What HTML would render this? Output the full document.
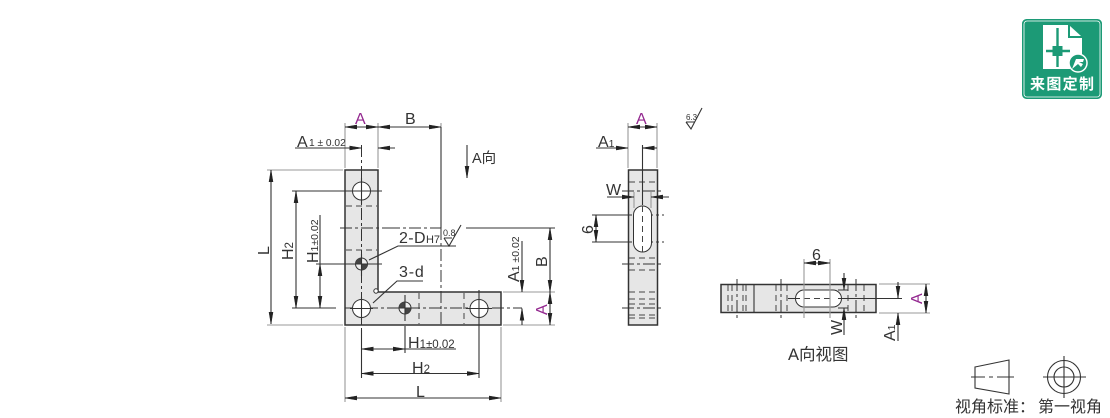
<!DOCTYPE html>
<html><head><meta charset="utf-8"><style>
html,body{margin:0;padding:0;background:#fff;width:1110px;height:418px;overflow:hidden}
svg{display:block}
text{font-family:"Liberation Sans","Noto Sans CJK SC",sans-serif;fill:#333}
.d{stroke:#333;stroke-width:1.100;fill:none}
.e{stroke:#999;stroke-width:1.100;fill:none}
.c{stroke:#333;stroke-width:1;fill:none;stroke-dasharray:12 3 3 3}
.h{stroke:#444;stroke-width:1;fill:none;stroke-dasharray:6 4}
.o{stroke:#333;stroke-width:1.500;fill:#e6e6e6}
.w{stroke:#333;stroke-width:1;fill:#fff}
.p{fill:#93278f}
</style></head><body>
<svg width="1110" height="418" viewBox="0 0 1110 418" xmlns="http://www.w3.org/2000/svg">
<defs>
<marker id="a" viewBox="0 0 12 6" refX="12" refY="3" markerWidth="12" markerHeight="6" orient="auto-start-reverse" markerUnits="userSpaceOnUse"><path d="M0 1L12 3L0 5z" fill="#222" stroke="#222" stroke-width=".5"/></marker>
</defs>

<!-- Main L part -->
<path class="o" d="M345 170H378V292H501V325H345z"/>
<g class="h">
<path d="M346 206H377M346 250H377M419 293V324M464 293V324"/>
</g>
<g class="c">
<path d="M361.500 145V340M340 228H388M345 308H522M388 228H441M441 228V325"/>
</g>
<path class="d" d="M441 127V228"/>
<circle class="w" cx="361.500" cy="191" r="9"/>
<circle class="w" cx="361.500" cy="308.500" r="9"/>
<circle class="w" cx="479" cy="308.500" r="9"/>
<circle cx="361.500" cy="264" r="6" fill="#eee" stroke="#333"/>
<path d="M361.500 264V258A6 6 0 0 0 355.500 264zM361.500 264H367.500A6 6 0 0 1 361.500 270z" fill="#444"/>
<circle cx="405" cy="308" r="6" fill="#eee" stroke="#333"/>
<path d="M405 308V302A6 6 0 0 0 399 308zM405 308H411A6 6 0 0 1 405 314z" fill="#444"/>
<circle cx="376" cy="291" r="2.200" fill="#fff" stroke="#333"/>
<path class="d" d="M340 191H382M361.500 178V204M338 264H382M361.500 254V276M350 308.500H373M361.500 297V320M466 308.500H492M479 290V326M405 295V321M395 308H415"/>

<!-- Top dims main -->
<path class="e" d="M345 123V168M378 123V168M441 123V127"/>
<path class="d" d="M345 127H378" marker-start="url(#a)" marker-end="url(#a)"/>
<path class="d" d="M378 127H441" marker-start="url(#a)" marker-end="url(#a)"/>
<text class="p" x="355" y="124" font-size="16">A</text>
<text x="405" y="124" font-size="16">B</text>
<path class="d" d="M295 148H361.500" marker-end="url(#a)"/>
<path class="d" d="M395 148H378" marker-end="url(#a)"/>
<text x="297" y="147" font-size="16">A</text><text x="309" y="146" font-size="10.200">1 ± 0.02</text>
<path class="d" d="M467 145V178" marker-end="url(#a)"/>
<text x="472" y="163" font-size="14.500">A向</text>

<!-- Left dims -->
<path class="e" d="M267 170H343M267 325H343"/>
<path class="d" d="M292 191H340M292 308H336M316 264H338"/>
<path class="d" d="M271 170V324" marker-start="url(#a)" marker-end="url(#a)"/>
<path class="d" d="M296 191V308" marker-start="url(#a)" marker-end="url(#a)"/>
<path class="d" d="M320 264V308" marker-start="url(#a)" marker-end="url(#a)"/>
<path class="d" d="M320 215V264"/>
<text font-size="16" transform="translate(269 255) rotate(-90)">L</text>
<text font-size="16" transform="translate(293 260) rotate(-90)">H<tspan font-size="11.500">2</tspan></text>
<text font-size="16" transform="translate(318 263) rotate(-90)">H<tspan font-size="10.500">1±0.02</tspan></text>

<!-- Callouts -->
<path class="d" d="M369 260L398 246H456M373 303L397 281H423"/>
<text x="399" y="243" font-size="16" letter-spacing=".4">2-D<tspan font-size="11" letter-spacing="0">H7</tspan></text>
<text x="399" y="277" font-size="16" letter-spacing=".8">3-d</text>
<text x="443" y="236" font-size="9">0.8</text>
<path class="d" d="M444 238H452M444 238L449 246L461 225"/>

<!-- Right dims -->
<path class="e" d="M503 292H555M503 325H555"/>
<path class="d" d="M466 228H555"/>
<path class="d" d="M550 228V292" marker-start="url(#a)" marker-end="url(#a)"/>
<path class="d" d="M550 292V325" marker-start="url(#a)" marker-end="url(#a)"/>
<path class="d" d="M522 241V292" marker-end="url(#a)"/>
<path class="d" d="M522 325V308.500" marker-end="url(#a)"/>
<text font-size="16" transform="translate(519 282) rotate(-90)">A<tspan font-size="10.500">1 ±0.02</tspan></text>
<text font-size="16" transform="translate(547 267) rotate(-90)">B</text>
<text class="p" font-size="16" transform="translate(547 315) rotate(-90)">A</text>

<!-- Bottom dims -->
<path class="e" d="M345 327V402M501 327V402"/>
<path class="d" d="M361.500 330V378M479 326V378M405 326V353"/>
<path class="d" d="M361.500 349H405" marker-start="url(#a)" marker-end="url(#a)"/>
<path class="d" d="M405 349H456"/>
<path class="d" d="M361.500 373.500H479" marker-start="url(#a)" marker-end="url(#a)"/>
<path class="d" d="M345 398H501" marker-start="url(#a)" marker-end="url(#a)"/>
<text x="408" y="348" font-size="16">H<tspan font-size="11.500">1±0.02</tspan></text>
<text x="412" y="373" font-size="16">H<tspan font-size="11.500">2</tspan></text>
<text x="416" y="397" font-size="16">L</text>

<!-- Side view -->
<rect class="o" x="628.500" y="170" width="29" height="155"/>
<path class="h" d="M629 182H657M629 258H657M629 270H657M629 292H657M629 299H657M629 304H657M629 315H657M629 318H657"/>
<path class="c" d="M622 191H664M622 264H664M622 308H664M620 215H664M620 242H664"/>
<path class="e" d="M634 192V208M651 192V208"/>
<path d="M633.500 215a9 9 0 0 1 18 0v28a9 9 0 0 1-18 0z" fill="#fff" stroke="#333"/>
<path class="d" d="M642.500 145V205"/>
<path class="h" d="M642.500 206V256"/>
<path class="e" d="M628 123V168M657 123V168"/>
<path class="d" d="M628 127H657" marker-start="url(#a)" marker-end="url(#a)"/>
<text class="p" x="636" y="124" font-size="16">A</text>
<path class="d" d="M596 148H628" marker-end="url(#a)"/>
<path class="d" d="M657 148H642.500" marker-end="url(#a)"/>
<text x="598" y="147" font-size="16">A<tspan font-size="10.500">1</tspan></text>
<path class="d" d="M607 197H634" marker-end="url(#a)"/>
<path class="d" d="M669 197H651" marker-end="url(#a)"/>
<text x="606" y="195" font-size="16">W</text>
<text x="686" y="120" font-size="8">6.3</text>
<path class="d" d="M686 122H695M686 122L691 129L702 108"/>
<path class="d" d="M592 215H620M592 242H620"/>
<path class="d" d="M596 215V242" marker-start="url(#a)" marker-end="url(#a)"/>
<text font-size="16" transform="translate(593 234) rotate(-90)">6</text>

<!-- A view -->
<rect class="o" x="721" y="284.500" width="155" height="28"/>
<path class="d" d="M754 285V312"/>
<path class="h" d="M728 285V312M732 285V312M743 285V312M746 285V312M776 285V312M787 285V312M848 285V312M864 285V312"/>
<path class="c" d="M737 279V319M781 279V319M856 279V319"/>
<path d="M804 290h29a8.500 8.500 0 0 1 0 17h-29a8.500 8.500 0 0 1 0-17z" fill="#fff" stroke="#333"/>
<path class="h" d="M804 298.500H833"/>
<path class="d" d="M788 298.500H800M838 298.500H902"/>
<path class="e" d="M804 259V318M830 259V318"/>
<path class="d" d="M804 263H830" marker-start="url(#a)" marker-end="url(#a)"/>
<text x="812" y="260" font-size="16">6</text>
<path class="d" d="M844 273V290" marker-end="url(#a)"/>
<path class="d" d="M844 335V308" marker-end="url(#a)"/>
<path class="d" d="M838 290H848M838 308H848"/>
<text font-size="16" transform="translate(842 335) rotate(-90)">W</text>
<path class="e" d="M879 284H930M879 313H930"/>
<path class="d" d="M898 282V298" marker-end="url(#a)"/>
<path class="d" d="M898 341V313" marker-end="url(#a)"/>
<path class="d" d="M926 284V313" marker-start="url(#a)" marker-end="url(#a)"/>
<text class="p" font-size="16" transform="translate(922 304) rotate(-90)">A</text>
<text font-size="16" transform="translate(895 341) rotate(-90)">A<tspan font-size="10.500">1</tspan></text>
<text x="788" y="360" font-size="16.500">A向视图</text>

<!-- Projection symbol -->
<path class="d" d="M975 367L1009 360V394L975 388z"/>
<path class="d" d="M971 377H985M989 377H993M997 377H1014"/>
<circle class="d" cx="1064" cy="377" r="16.500"/>
<circle class="d" cx="1064" cy="377" r="10"/>
<path class="d" d="M1043 377H1086M1064 356V398"/>
<text x="955" y="412" font-size="16">视角标准：</text>
<text x="1038" y="412" font-size="16">第一视角</text>

<!-- Badge -->
<rect x="1022.500" y="19.500" width="79" height="79" rx="4" fill="#1c9a76" stroke="#1c9a76"/>
<rect x="1024" y="21" width="76" height="76" rx="3" fill="none" stroke="#fff" stroke-width=".8"/>
<path d="M1043 25H1068V38H1082V62A9 9 0 0 0 1070 69H1043z" fill="#fff"/>
<path d="M1070 26V36H1081z" fill="#fff"/>
<path d="M1046 51H1070M1057.500 28V67" stroke="#1c9a76" stroke-width="2.400" fill="none"/>
<rect x="1052.500" y="46" width="10" height="10" fill="#1c9a76"/>
<circle cx="1078" cy="63" r="9" fill="#1c9a76" stroke="#fff" stroke-width="1.500"/>
<path d="M1072 69L1076 59H1084L1083 62H1079L1083 64L1081 67L1078 64z" fill="#fff"/>
<text x="1030" y="89" font-size="15" font-weight="700" style="fill:#fff" textLength="64">来图定制</text>
</svg>
</body></html>
